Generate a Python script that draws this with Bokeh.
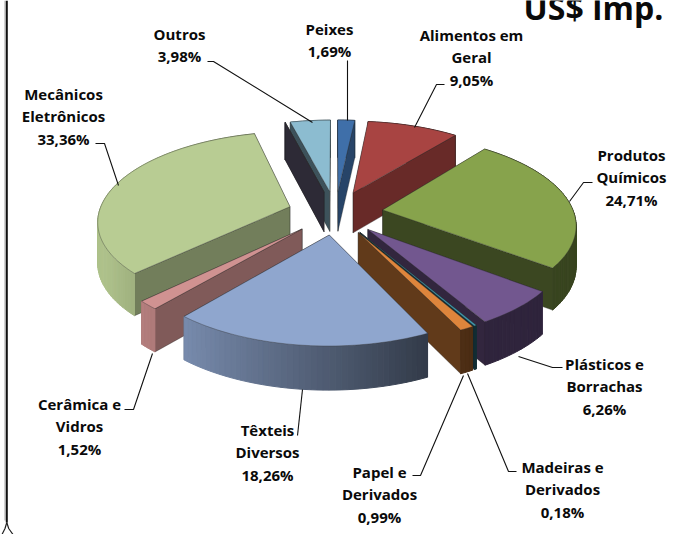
import numpy as np
from bokeh.plotting import figure
from bokeh.models import Range1d
from bokeh.core.properties import value
from bokeh.embed import file_html
from bokeh.resources import INLINE

# ---- data (clockwise from 12 o'clock) -------------------------------------
categories = ["Peixes", "Alimentos em\nGeral", "Produtos\nQuímicos", "Plásticos e\nBorrachas",
              "Madeiras e\nDerivados", "Papel e\nDerivados", "Têxteis\nDiversos",
              "Cerâmica e\nVidros", "Mecânicos\nEletrônicos", "", "Outros"]
shares = [1.69, 9.05, 24.71, 6.26, 0.18, 0.99, 18.26, 1.52, 33.36, 0.0, 3.98]
share_labels = ["1,69%", "9,05%", "24,71%", "6,26%", "0,18%", "0,99%", "18,26%", "1,52%", "33,36%", "", "3,98%"]
top_colors = ["#3F6FA9", "#A84442", "#87A34C", "#72578F", "#3F97AE", "#DE853C", "#8FA6CE",
              "#D09291", "#B8CC93", "#4A4558", "#8CBCD0"]

# ---- layout / styling -----------------------------------------------------
W, H = 681, 534
CX, CY = 335.0, 212.0      # pie centre in page pixels
S, A = 191.0, 0.458        # radius in px, vertical squash
K = 0.146                  # perspective strength
EXPLODE = 0.25
DEPTH = 40.5
FONT = "Open Sans"

label_pos = [(329, 28), (471, 34), (631, 154), (604, 363), (562, 466), (379, 471),
             (267, 429), (79, 403), (63, 93), None, (179, 33)]
line_h = 22.7
leaders = [
    [(347, 60), (347, 120)],
    [(444, 84), (436, 84), (414, 127)],
    [(592, 182), (583, 182), (569, 201)],
    [(562, 367), (552, 367), (518, 356)],
    [(516, 471), (508, 471), (467, 373)],
    [(412, 475), (420, 475), (463, 375)],
    [(297, 435), (302, 389)],
    [(124, 409), (133, 409), (152, 353)],
    [(95, 143), (104, 143), (118, 185)],
    [(207, 61), (213, 61), (312, 122)],
]


def shade(hex_color, f):
    r, g, b = [int(hex_color[i:i + 2], 16) for i in (1, 3, 5)]
    return "#%02x%02x%02x" % (int(min(255, r * f)), int(min(255, g * f)), int(min(255, b * f)))


def project(u, v, lift):
    """ground coords -> page pixels; lift=0 top face, 1 bottom face"""
    w = 1 - K * v
    x = CX + S * u / w
    y = CY + S * A * v / w + lift * DEPTH / (1 - 0.45 * K * v)
    return x, y


p = figure(width=W, height=H, x_range=Range1d(0, W), y_range=Range1d(H, 0),
           output_backend="svg", toolbar_location=None, min_border=0,
           outline_line_color=None, background_fill_color="white")
p.styles = {"position": "absolute", "left": "0px", "top": "0px"}
p.axis.visible = False
p.grid.visible = False

total = sum(shares)
edges = np.concatenate([[0], np.cumsum(shares)]) / total * 2 * np.pi

slices = []
for i, val in enumerate(shares):
    a0, a1 = edges[i], edges[i + 1]
    mid = (a0 + a1) / 2
    ou, ov = EXPLODE * np.sin(mid), -EXPLODE * np.cos(mid)
    slices.append((ov, i, a0, a1, ou))
slices.sort(key=lambda t: t[0])

fx, fy, fc, lc, lw, la = [], [], [], [], [], []


def add(xs, ys, fill, line, width, alpha):
    fx.append(list(xs)); fy.append(list(ys)); fc.append(fill); lc.append(line); lw.append(width); la.append(alpha)


for ov, i, a0, a1, ou in slices:
    col = top_colors[i]
    thin = shares[i] < 0.5 and shares[i] > 0
    faces = []
    n = max(2, int((a1 - a0) / np.radians(1.5)) + 1)
    th = np.linspace(a0, a1, n + 1)
    ua, va = ou + np.sin(th), ov - np.cos(th)
    # radial faces
    for ang, sgn in ((a0, -1), (a1, 1)):
        eu, ev = ou + np.sin(ang), ov - np.cos(ang)
        nx = np.sin(ang + sgn * np.pi / 2)
        f = 0.62 if nx > 0 else 0.44
        if thin:
            f = 0.3
        faces.append(((ov + ev) / 2, [(ou, ov), (eu, ev)], shade(col, f), True))
    # outer band
    for j in range(n):
        tm = (th[j] + th[j + 1]) / 2
        f = max(0.34 if 150 < np.degrees(tm) < 230 else 0.42, min(0.95, 0.55 - 0.45 * np.sin(tm)))
        if thin:
            f = 0.3
        faces.append(((va[j] + va[j + 1]) / 2, [(ua[j], va[j]), (ua[j + 1], va[j + 1])], shade(col, f), False))
    faces.sort(key=lambda t: t[0])
    for _, pts, fill, outlined in faces:
        (u0, v0), (u1, v1) = pts
        P = [project(u0, v0, 0), project(u1, v1, 0), project(u1, v1, 1), project(u0, v0, 1)]
        add([q[0] for q in P], [q[1] for q in P], fill, "#222222" if outlined else fill,
            0.6 if outlined else 1.0, 0.6 if outlined else 1.0)
    # top face
    P = [project(ou, ov, 0)] + [project(a, b, 0) for a, b in zip(ua, va)]
    add([q[0] for q in P], [q[1] for q in P], col, "#333333", 0.6, 0.6)

p.patches(fx, fy, fill_color=fc, line_color=lc, line_width=lw, line_alpha=la)

# leader lines
for seg in leaders:
    p.line([q[0] for q in seg], [q[1] for q in seg], line_color="#111111", line_width=1.1)

# labels
tx, ty, tt = [], [], []
for i, pos in enumerate(label_pos):
    if pos is None:
        continue
    for k, line in enumerate(categories[i].split("\n") + [share_labels[i]]):
        tx.append(pos[0]); ty.append(pos[1] + k * line_h); tt.append(line)
p.text(tx, ty, text=tt, text_font=value(FONT), text_font_style="bold", text_font_size="15px",
       text_color="#0a0a0a", text_align="center", text_baseline="middle")

# heading, cut by the top of the page as in the reference
p.text([593], [7], text=["US$ Imp."], text_font=value(FONT), text_font_style="bold",
       text_font_size="32px", text_color="#0a0a0a", text_align="center", text_baseline="middle")

# frame fragment on the left
p.line([4.5, 4.5], [0, 520], line_color="#bbbbbb", line_width=1.3)
p.line([6.3, 6.3], [0, 522], line_color="#111111", line_width=2)
p.line([6.3, 4.5, 1.5], [522, 528, 534], line_color="#222222", line_width=1.2)
p.line([6.3, 8.2, 12.5], [522, 528, 534], line_color="#222222", line_width=1.2)

open("out.html", "w").write(file_html(p, INLINE))
